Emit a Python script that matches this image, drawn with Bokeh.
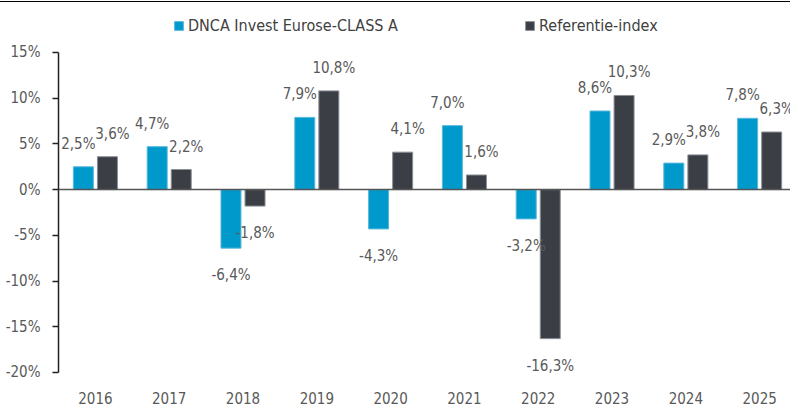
from bokeh.plotting import figure
from bokeh.models import (ColumnDataSource, Range1d, Span, Legend, LegendItem,
                          FixedTicker, LabelSet, CustomJSTickFormatter)
from bokeh.core.properties import value
from bokeh.embed import file_html
from bokeh.resources import INLINE

years = ["2016", "2017", "2018", "2019", "2020", "2021", "2022", "2023", "2024", "2025"]
fund = [2.5, 4.7, -6.4, 7.9, -4.3, 7.0, -3.2, 8.6, 2.9, 7.8]
index = [3.6, 2.2, -1.8, 10.8, 4.1, 1.6, -16.3, 10.3, 3.8, 6.3]
fund_name = "DNCA Invest Eurose-CLASS A"
index_name = "Referentie-index"
y_ticks = [-20, -15, -10, -5, 0, 5, 10, 15]

FONT = "'Liberation Sans Narrow', 'DejaVu Sans Condensed', 'Roboto Condensed', Roboto, sans-serif"
BLUE = "#0099CC"
DARK = "#3B3F45"
TXT = "#595959"
FS = "15px"

xs = list(range(len(years)))
off = 0.163
bw = 0.271


def fmt(v):
    return ("%.1f" % v).replace(".", ",") + "%"


p = figure(width=790, height=404, output_backend="svg", toolbar_location=None,
           x_range=Range1d(-0.5, 9.418), y_range=Range1d(-20.77, 20.25),
           min_border_left=58, min_border_right=0, min_border_top=2, min_border_bottom=27)
p.outline_line_color = None
p.grid.visible = False
p.styles = {"margin-top": "1px", "border-top": "1px solid #000000"}

renderers = []
for vals, shift, side, fill, edge in ((fund, -off, -1, BLUE, "#5ab8dc"),
                                      (index, off, 1, DARK, "#8a9096")):
    src = ColumnDataSource(dict(x=[i + shift for i in xs], top=vals))
    r = p.vbar(x="x", top="top", bottom=0, width=bw, source=src,
               fill_color=fill, line_color=edge, line_width=1)
    renderers.append(r)
    pos = ColumnDataSource(dict(
        x=[i + shift for i, v in zip(xs, vals) if v >= 0],
        y=[v for v in vals if v >= 0],
        lab=[fmt(v) for v in vals if v >= 0],
    ))
    neg = ColumnDataSource(dict(
        x=[i + shift for i, v in zip(xs, vals) if v < 0],
        y=[v for v in vals if v < 0],
        lab=[fmt(v) for v in vals if v < 0],
    ))
    p.add_layout(LabelSet(x="x", y="y", text="lab", source=pos, x_offset=side * 5,
                          y_offset=14, text_align="center", text_baseline="bottom",
                          text_font=value(FONT), text_font_size=value(FS),
                          text_color=value(TXT)))
    p.add_layout(LabelSet(x="x", y="y", text="lab", source=neg,
                          y_offset=-18, text_align="center", text_baseline="top",
                          text_font=value(FONT), text_font_size=value(FS),
                          text_color=value(TXT)))

p.add_layout(Span(location=0, dimension="width", line_color="#555555", line_width=1.5))

ya = p.yaxis[0]
ya.ticker = FixedTicker(ticks=y_ticks)
ya.bounds = (y_ticks[0], y_ticks[-1])
ya.formatter = CustomJSTickFormatter(code="return tick + '%';")
ya.axis_line_color = "#222222"
ya.axis_line_width = 1.5
ya.major_tick_line_color = "#222222"
ya.major_tick_line_width = 1.5
ya.major_tick_in = 0
ya.major_tick_out = 6
ya.minor_tick_line_color = None
ya.major_label_standoff = 12
ya.major_label_text_font = FONT
ya.major_label_text_font_size = FS
ya.major_label_text_color = TXT

xa = p.xaxis[0]
xa.ticker = FixedTicker(ticks=xs)
xa.major_label_overrides = {i: y for i, y in enumerate(years)}
xa.axis_line_color = None
xa.major_tick_line_color = None
xa.minor_tick_line_color = None
xa.major_label_standoff = 6
xa.major_label_text_font = FONT
xa.major_label_text_font_size = FS
xa.major_label_text_color = TXT

for item_label, rend, xloc in ((fund_name, renderers[0], 115), (index_name, renderers[1], 466)):
    lg = Legend(items=[LegendItem(label=item_label, renderers=[rend])],
                orientation="horizontal", location=(xloc, 344),
                glyph_width=11, glyph_height=11, label_standoff=4,
                label_text_font=FONT, label_text_font_size="16px", label_text_color="#404040",
                border_line_color=None, background_fill_alpha=0, padding=4, margin=0)
    p.add_layout(lg, "center")

open("out.html", "w").write(file_html(p, INLINE))
